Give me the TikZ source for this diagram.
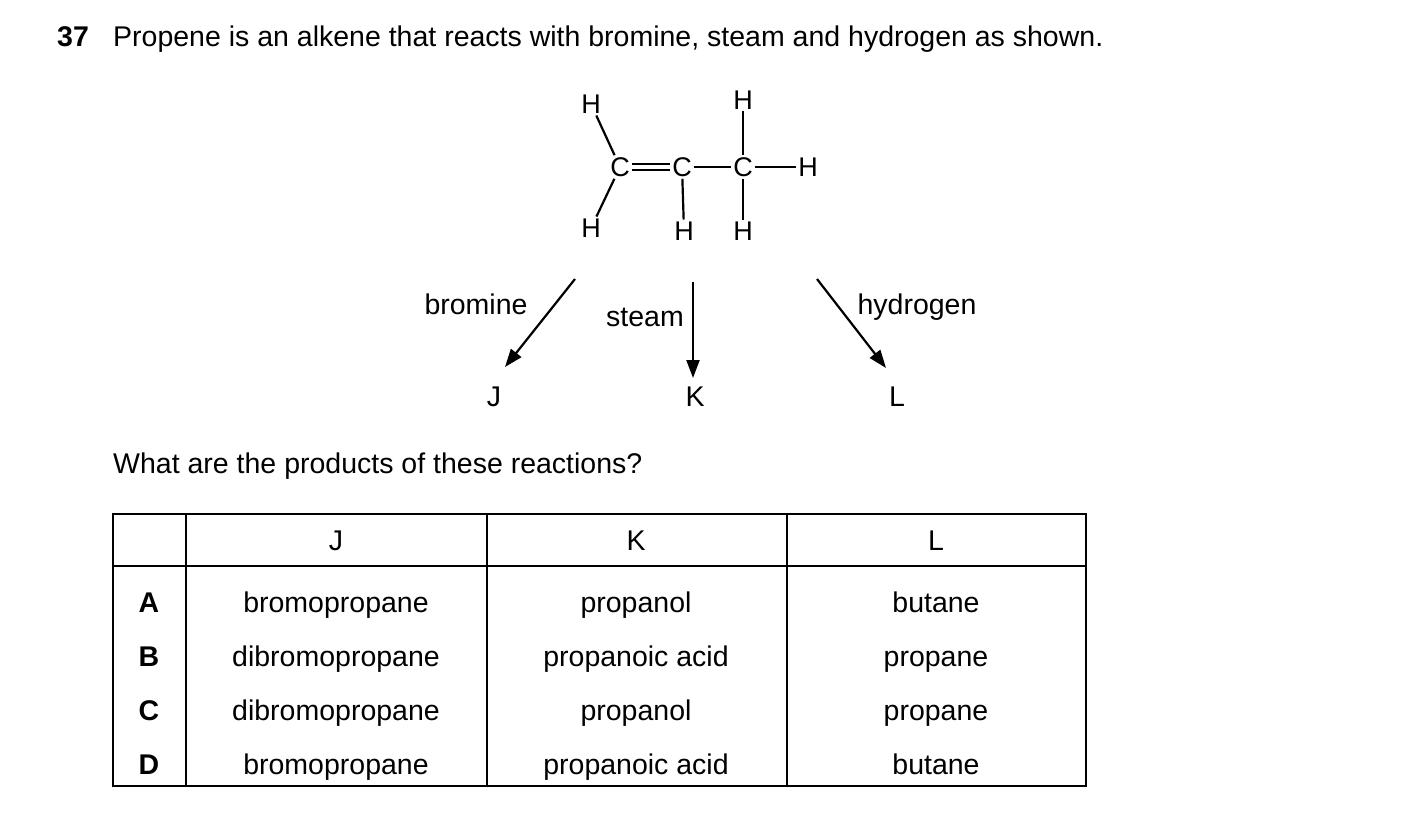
\documentclass[tikz,border=0pt]{standalone}
\usepackage{fontspec}
\setmainfont{Liberation Sans}
\usetikzlibrary{arrows.meta}
\begin{document}
\begin{tikzpicture}[x=1pt,y=-1pt,
  txt/.style={inner sep=0pt,anchor=base,font=\fontsize{28.5}{32}\selectfont},
  atom/.style={inner sep=2pt,font=\fontsize{27}{30}\selectfont},
  bond/.style={line width=2.2pt},
  rx/.style={line width=2.2pt,-{Triangle[length=18pt,width=13pt]}},
  grid/.style={line width=1.2pt}]
\useasboundingbox (0,0) rectangle (1403,833);
\node[txt,anchor=base west,font=\fontsize{28.5}{32}\selectfont\bfseries] (num) at (57,46) {37};
\node[txt,anchor=base west] (title) at (113,46) {Propene is an alkene that reacts with bromine, steam and hydrogen as shown.};
% molecule
\node[atom] (c1) at (620,167) {C};
\node[atom] (c2) at (682,167) {C};
\node[atom] (c3) at (743,167) {C};
\node[atom] (hr) at (808,167) {H};
\node[atom] (htl) at (591,104) {H};
\node[atom] (hbl) at (591,228) {H};
\node[atom] (h2) at (684,231) {H};
\node[atom] (h3t) at (743,100) {H};
\node[atom] (h3b) at (743,231) {H};
\draw[bond] (c1) -- (htl);
\draw[bond] (c1) -- (hbl);
\draw[bond] ([yshift=-3pt]c1.east) -- ([yshift=-3pt]c2.west);
\draw[bond] ([yshift=3pt]c1.east) -- ([yshift=3pt]c2.west);
\draw[bond] (c2) -- (c3);
\draw[bond] (c3) -- (hr);
\draw[bond] (c2) -- (h2);
\draw[bond] (c3) -- (h3t);
\draw[bond] (c3) -- (h3b);
% arrows
\coordinate (b0) at (575,279); \coordinate (b1) at (505,367);
\coordinate (s0) at (693,282); \coordinate (s1) at (693,378);
\coordinate (g0) at (817,279); \coordinate (g1) at (886,368);
\draw[rx] (b0) -- (b1);
\draw[rx] (s0) -- (s1);
\draw[rx] (g0) -- (g1);
\node[txt] (lb) at (476,314) {bromine};
\node[txt] (ls) at (645,326) {steam};
\node[txt] (lh) at (917,314) {hydrogen};
\node[txt] (pj) at (494,406) {J};
\node[txt] (pk) at (695,406) {K};
\node[txt] (pl) at (897,406) {L};
\node[txt,anchor=base west] (q) at (113,473) {What are the products of these reactions?};
% table
\draw[grid] (113,514) rectangle (1086,786);
\draw[grid] (113,566) -- (1086,566);
\draw[grid] (186,514) -- (186,786);
\draw[grid] (487,514) -- (487,786);
\draw[grid] (787,514) -- (787,786);
\node[txt] (hj) at (336,550) {J};
\node[txt] (hk) at (636,550) {K};
\node[txt] (hl) at (936,550) {L};
\foreach \y/\l/\j/\k/\m in {612/A/bromopropane/propanol/butane,666/B/dibromopropane/propanoic acid/propane,720/C/dibromopropane/propanol/propane,774/D/bromopropane/propanoic acid/butane}{
  \node[txt,font=\fontsize{28.5}{32}\selectfont\bfseries] at (149,\y) {\l};
  \node[txt] at (336,\y) {\j};
  \node[txt] at (636,\y) {\k};
  \node[txt] at (936,\y) {\m};
}
\end{tikzpicture}
\end{document}
